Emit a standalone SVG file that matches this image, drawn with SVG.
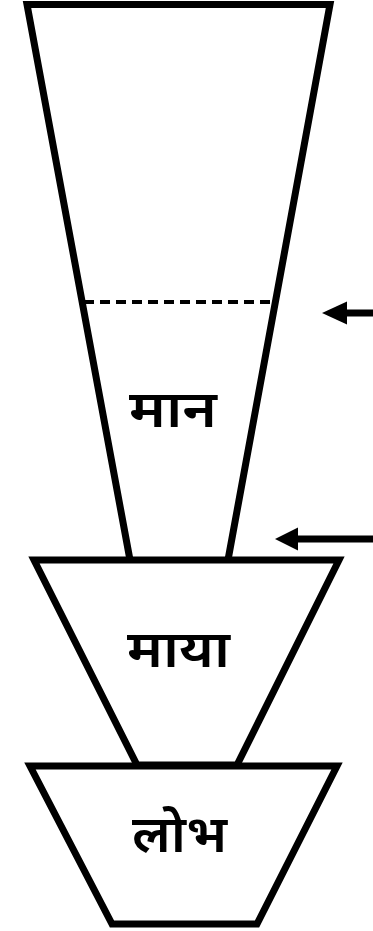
<svg xmlns="http://www.w3.org/2000/svg" width="373" height="931" viewBox="0 0 373 931">
<style>
.shape{fill:none;stroke:#000;stroke-width:7;stroke-linejoin:miter}
.lbl{font-family:"Noto Sans","Noto Sans Devanagari","DejaVu Sans",sans-serif;font-size:51px;font-weight:600;text-anchor:middle;fill:#000}
.arr{stroke:#000;stroke-width:7;fill:none}
</style>
<g id="node-man">
<polyline class="shape" points="130,560 27,4.5 330,4.5 228,560"/>
<line x1="84" y1="302" x2="278" y2="302" stroke="#000" stroke-width="4" stroke-dasharray="10,6"/>
<text class="lbl" x="173" y="427" textLength="88" lengthAdjust="spacingAndGlyphs">मान</text>
</g>
<g id="node-maya">
<polygon class="shape" points="34,560 339,560 237,765 137,765"/>
<text class="lbl" x="178.5" y="667" textLength="103" lengthAdjust="spacingAndGlyphs">माया</text>
</g>
<g id="node-lobh">
<polygon class="shape" points="30,766 337,766 257,924 112,924"/>
<text class="lbl" x="179.5" y="852" textLength="95" lengthAdjust="spacingAndGlyphs">लोभ</text>
</g>
<g id="connectors">
<line class="arr" x1="373" y1="313" x2="346" y2="313"/>
<path d="M322,313 L347,301.5 L347,324.5 Z" fill="#000"/>
<line class="arr" x1="373" y1="539" x2="297" y2="539"/>
<path d="M275,539 L298,527.5 L298,550.5 Z" fill="#000"/>
</g>
</svg>
